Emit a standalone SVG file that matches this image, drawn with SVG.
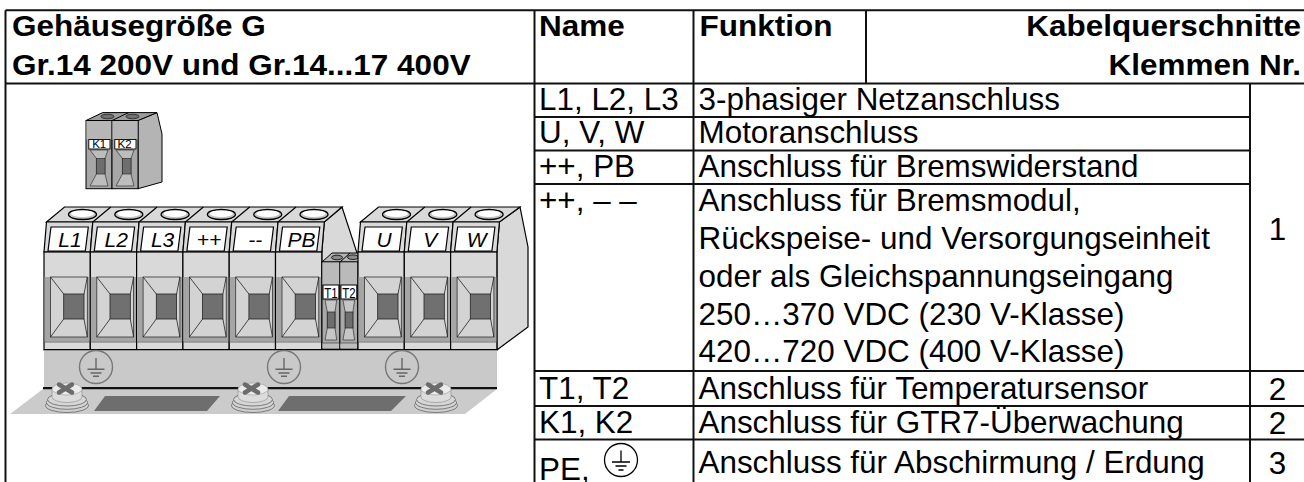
<svg xmlns="http://www.w3.org/2000/svg" width="1304" height="482" viewBox="0 0 1304 482">
<style>
.t{font-family:'Liberation Sans',Arial,sans-serif;font-size:30.5px;fill:#000}
.b{font-weight:bold;font-size:30px}
.e{text-anchor:end}
.m{text-anchor:middle}
.grid{stroke:#111;stroke-width:2;fill:none}
.lbl{font-family:'Liberation Sans',Arial,sans-serif;font-style:italic;font-size:21px;text-anchor:middle;fill:#000}
.sm{font-family:'Liberation Sans',Arial,sans-serif;text-anchor:middle;fill:#000}
.thin{stroke:#222;stroke-width:0.8;fill:none}
</style>
<defs>
<g id="mod">
<polygon points="2.5,222 48.8,222 46.3,252 0,252" fill="#d9d9d9" stroke="#000" stroke-width="1.2"/>
<rect x="0" y="252" width="46.3" height="98" fill="#d9d9d9" stroke="#000" stroke-width="1.2"/>
<rect x="0.6" y="277" width="45.1" height="64.5" fill="#a5a5a5"/>
<rect x="6.5" y="277" width="36.8" height="60" fill="#d3d3d3" stroke="#333" stroke-width="0.8"/>
<rect x="19.7" y="294" width="20.3" height="25" fill="#707070" stroke="#222" stroke-width="0.8"/>
<path d="M6.5,277L19.7,294M6.5,337L19.7,319M43.3,277L40,294M43.3,337L40,319" class="thin"/>
<line x1="0" y1="342" x2="46.3" y2="342" stroke="#555" stroke-width="0.8"/>
<polygon points="7,227 44.3,227 41.3,251 4,251" fill="#fff" stroke="#000" stroke-width="1.2"/>
<ellipse cx="38.5" cy="214.5" rx="14" ry="5" fill="#c4c4c4" stroke="#000" stroke-width="1.3"/>
<ellipse cx="38.5" cy="213.7" rx="11.5" ry="3.3" fill="#fff"/>
</g>
<g id="tmod">
<rect x="0" y="262" width="17.9" height="87" fill="#a9a9a9" stroke="#000" stroke-width="1"/>
<rect x="0.5" y="262.5" width="16.9" height="22.5" fill="#bababa"/>
<polygon points="3,300 14.7,300 13,312 13,328 14.7,340 3,340 5.3,328 5.3,312" fill="#c6c6c6" stroke="#333" stroke-width="0.7"/>
<rect x="5.3" y="312" width="7.7" height="16" fill="#6e6e6e" stroke="#222" stroke-width="0.7"/>
<rect x="0.5" y="343" width="16.9" height="5.5" fill="#bdbdbd"/>
<line x1="0" y1="343" x2="17.9" y2="343" stroke="#444" stroke-width="0.7"/>
<rect x="1" y="285" width="15.9" height="14" fill="#fff" stroke="#000" stroke-width="1"/>
</g>
<g id="kmod">
<rect x="0" y="120.5" width="26" height="68.2" fill="#a7a7a7" stroke="#000" stroke-width="1"/>
<rect x="0.5" y="121" width="25" height="18.5" fill="#b6b6b6"/>
<polygon points="4,150 22,150 19,158.4 19,174 22,186 4,186 10.4,174 10.4,158.4" fill="#bdbdbd" stroke="#333" stroke-width="0.7"/>
<rect x="10.4" y="158.4" width="8.6" height="15.6" fill="#6e6e6e" stroke="#222" stroke-width="0.6"/>
<rect x="2.8" y="139.5" width="21.2" height="9.5" fill="#fff" stroke="#000" stroke-width="0.9"/>
</g>
<g id="screw">
<ellipse cx="0" cy="405.5" rx="21.5" ry="7" fill="#cfcfcf" stroke="#666" stroke-width="0.8"/>
<ellipse cx="0" cy="402.5" rx="20.5" ry="6.8" fill="#d3d3d3" stroke="#666" stroke-width="0.8"/>
<ellipse cx="0" cy="399.5" rx="19.5" ry="6.5" fill="#d6d6d6" stroke="#666" stroke-width="0.8"/>
<path d="M-15,389 v8 a15,5.5 0 0 0 30,0 v-8 z" fill="#dcdcdc" stroke="#888" stroke-width="0.6"/>
<ellipse cx="0" cy="389" rx="15" ry="6" fill="#ebebeb" stroke="#999" stroke-width="0.6"/>
<path d="M-8,384.5 L5,392.5 M-8,392.5 L5,384.5" stroke="#6b6b6b" stroke-width="4.5" stroke-linecap="round"/>
</g>
<g id="pe">
<circle cx="0" cy="0" r="16.5" fill="none" stroke="#777" stroke-width="1.4"/>
<path d="M0,-9V2.3M-8.5,2.3H8.5M-5.5,6H5.5M-3,9.2H3" stroke="#666" stroke-width="1.4" fill="none"/>
</g>
</defs>
<rect width="1304" height="482" fill="#fff"/>

<g id="terminal-block">
<g id="left-group">
<polygon points="324.3,222 342,207 358,256 358,350 321.8,350 321.8,252" fill="#d9d9d9" stroke="#000" stroke-width="1.2"/>
<polygon points="46.5,222 64.5,207 342,207 324.3,222" fill="#d9d9d9" stroke="#000" stroke-width="1.2"/>
<path d="M92.8,222L110.8,207M139.1,222L157.1,207M185.4,222L203.4,207M231.7,222L249.7,207M278,222L296,207" stroke="#000" stroke-width="1.2"/>
<use href="#mod" x="44"/>
<use href="#mod" x="90.3"/>
<use href="#mod" x="136.6"/>
<use href="#mod" x="182.9"/>
<use href="#mod" x="229.2"/>
<use href="#mod" x="275.5"/>
<text class="lbl" x="70" y="246.5">L1</text>
<text class="lbl" x="116.3" y="246.5">L2</text>
<text class="lbl" x="162.6" y="246.5">L3</text>
<text class="lbl" x="208.9" y="246.5">++</text>
<text class="lbl" x="255.2" y="246.5">--</text>
<text class="lbl" x="301.5" y="246.5">PB</text>
</g>
<g id="t-block">
<polygon points="322,262 332,253 367,253 357.8,262" fill="#b5b5b5" stroke="#000" stroke-width="1"/>
<line x1="340" y1="262" x2="350" y2="253" stroke="#000" stroke-width="1"/>
<ellipse cx="337" cy="257.5" rx="5.5" ry="2.3" fill="#8a8a8a" stroke="#000" stroke-width="0.8"/>
<ellipse cx="353" cy="257.2" rx="5.5" ry="2.3" fill="#8a8a8a" stroke="#000" stroke-width="0.8"/>
<use href="#tmod" x="322"/>
<use href="#tmod" x="339.9"/>
<text class="sm" font-size="14" transform="matrix(0.82,0,0,1,331,297.5)">T1</text>
<text class="sm" font-size="14" transform="matrix(0.82,0,0,1,348.9,297.5)">T2</text>
</g>
<g id="right-group">
<polygon points="499.4,222 520,207 528,247 528,327 496.9,350 496.9,252" fill="#d9d9d9" stroke="#000" stroke-width="1.2"/>
<polygon points="360.5,222 378.5,207 520,207 499.4,222" fill="#d9d9d9" stroke="#000" stroke-width="1.2"/>
<path d="M406.8,222L424.8,207M453.1,222L471.1,207" stroke="#000" stroke-width="1.2"/>
<use href="#mod" x="358"/>
<use href="#mod" x="404.3"/>
<use href="#mod" x="450.6"/>
<text class="lbl" x="384" y="246.5">U</text>
<text class="lbl" x="430.3" y="246.5">V</text>
<text class="lbl" x="476.6" y="246.5">W</text>
</g>
<g id="rail">
<polygon points="43,389 497,389 465,414 10,414" fill="#cbcbcb"/>
<polygon points="105,396 220,396 207,411 94,411" fill="#6e6e6e"/>
<polygon points="289,396 406,396 391,411 278,411" fill="#6e6e6e"/>
<rect x="44" y="350" width="453" height="38" fill="#c9c9c9"/>
<line x1="44" y1="349.6" x2="497" y2="349.6" stroke="#000" stroke-width="1.2"/>
<line x1="43" y1="388.2" x2="497" y2="388.2" stroke="#111" stroke-width="2.2"/>
<use href="#pe" transform="translate(96,367)"/>
<use href="#pe" transform="translate(284,367)"/>
<use href="#pe" transform="translate(402,367)"/>
<use href="#screw" x="67"/>
<use href="#screw" x="253"/>
<use href="#screw" x="436"/>
</g>
</g>

<g id="k-block">
<polygon points="138,120.5 157,112.6 162,134 162,182 138,188.7" fill="#b4b4b4" stroke="#000" stroke-width="1"/>
<polygon points="86,120.5 102.6,112.6 157,112.6 138,120.5" fill="#9c9c9c" stroke="#000" stroke-width="1"/>
<line x1="112" y1="120.5" x2="128.6" y2="112.6" stroke="#000" stroke-width="1"/>
<ellipse cx="107.5" cy="116.5" rx="6.5" ry="2.3" fill="#707070" stroke="#000" stroke-width="0.6"/>
<ellipse cx="132.5" cy="116.5" rx="6.5" ry="2.3" fill="#707070" stroke="#000" stroke-width="0.6"/>
<use href="#kmod" x="86"/>
<use href="#kmod" x="112"/>
<text class="sm" font-size="11.5" x="99.2" y="148">K1</text>
<text class="sm" font-size="11.5" x="124.6" y="148">K2</text>
</g>

<g id="table-lines" class="grid">
<path d="M5.5,10.3H1304M5.5,83.5H1304M534.5,117H1250M534.5,150.5H1250M534.5,184H1250M534.5,371H1304M534.5,406H1304M534.5,439.5H1304"/>
<path d="M5.5,10.3V482M534.5,10.3V482M693.5,10.3V482M866,10.3V83.5M1250,83.5V482"/>
</g>

<g id="header">
<text class="t b" transform="matrix(1.05,0,0,1,12,35.5)">Gehäusegröße G</text>
<text class="t b" transform="matrix(1.05,0,0,1,12,75)">Gr.14 200V und Gr.14...17 400V</text>
<text class="t b" transform="matrix(1.05,0,0,1,539,35.5)">Name</text>
<text class="t b" transform="matrix(1.05,0,0,1,699.5,35.5)">Funktion</text>
<text class="t b e" transform="matrix(1.05,0,0,1,1301,35.5)">Kabelquerschnitte</text>
<text class="t b e" transform="matrix(1.05,0,0,1,1301,75)">Klemmen Nr.</text>
</g>

<g id="row-netz">
<text class="t" transform="matrix(1.03,0,0,1,539,109.5)">L1, L2, L3</text>
<text class="t" transform="matrix(1.03,0,0,1,698.5,109.5)">3-phasiger Netzanschluss</text>
</g>
<g id="row-motor">
<text class="t" transform="matrix(1.03,0,0,1,539,143)">U, V, W</text>
<text class="t" transform="matrix(1.03,0,0,1,698.5,143)">Motoranschluss</text>
</g>
<g id="row-bremswiderstand">
<text class="t" transform="matrix(1.03,0,0,1,539,176.5)">++, PB</text>
<text class="t" transform="matrix(1.03,0,0,1,698.5,176.5)">Anschluss für Bremswiderstand</text>
</g>
<g id="row-bremsmodul">
<text class="t" transform="matrix(1.03,0,0,1,539,211)">++, – –</text>
<text class="t" transform="matrix(1.03,0,0,1,698.5,211)">Anschluss für Bremsmodul,</text>
<text class="t" transform="matrix(1.03,0,0,1,698.5,249)">Rückspeise- und Versorgungseinheit</text>
<text class="t" transform="matrix(1.03,0,0,1,698.5,287)">oder als Gleichspannungseingang</text>
<text class="t" transform="matrix(1.03,0,0,1,698.5,325)">250…370 VDC (230 V-Klasse)</text>
<text class="t" transform="matrix(1.03,0,0,1,698.5,362)">420…720 VDC (400 V-Klasse)</text>
<text class="t m" transform="matrix(1.03,0,0,1,1277.5,240)">1</text>
</g>
<g id="row-temp">
<text class="t" transform="matrix(1.03,0,0,1,539,399)">T1, T2</text>
<text class="t" transform="matrix(1.03,0,0,1,698.5,399)">Anschluss für Temperatursensor</text>
<text class="t m" transform="matrix(1.03,0,0,1,1277.5,399.5)">2</text>
</g>
<g id="row-gtr7">
<text class="t" transform="matrix(1.03,0,0,1,539,433)">K1, K2</text>
<text class="t" transform="matrix(1.03,0,0,1,698.5,433)">Anschluss für GTR7-Überwachung</text>
<text class="t m" transform="matrix(1.03,0,0,1,1277.5,433.5)">2</text>
</g>
<g id="row-pe">
<text class="t" transform="matrix(1.03,0,0,1,539,480)">PE,</text>
<circle cx="621" cy="460" r="16.5" fill="#fff" stroke="#000" stroke-width="1.3"/>
<path d="M621,450.5V462M612,462H630M615.5,466H626.5M618.5,470H623.5" stroke="#000" stroke-width="1.3" fill="none"/>
<text class="t" transform="matrix(1.03,0,0,1,698.5,473)">Anschluss für Abschirmung / Erdung</text>
<text class="t m" transform="matrix(1.03,0,0,1,1277.5,473.5)">3</text>
</g>
</svg>
